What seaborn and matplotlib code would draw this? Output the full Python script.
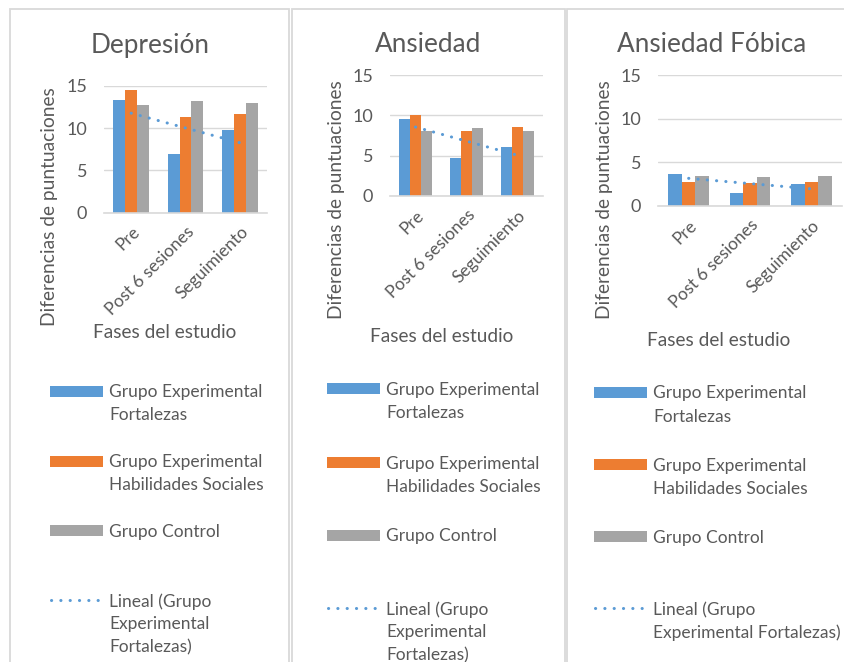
import numpy as np
import pandas as pd
import matplotlib
matplotlib.use("Agg")
import matplotlib.pyplot as plt
import seaborn as sns
from matplotlib.patches import Rectangle
from matplotlib.lines import Line2D

# ---- data -------------------------------------------------------------
fases = ["Pre", "Post 6 sesiones", "Seguimiento"]
grupos = ["Grupo Experimental Fortalezas",
          "Grupo Experimental Habilidades Sociales",
          "Grupo Control"]
titulos = ["Depresión", "Ansiedad", "Ansiedad Fóbica"]

depresion_fortalezas = [13.3, 7.0, 9.8]
depresion_habilidades = [14.5, 11.3, 11.7]
depresion_control = [12.8, 13.2, 13.0]

ansiedad_fortalezas = [9.6, 4.7, 6.1]
ansiedad_habilidades = [10.1, 8.0, 8.5]
ansiedad_control = [8.0, 8.4, 8.1]

fobica_fortalezas = [3.7, 1.5, 2.5]
fobica_habilidades = [2.8, 2.6, 2.8]
fobica_control = [3.4, 3.3, 3.4]

yticks = [0, 5, 10, 15]
ylabel = "Diferencias de puntuaciones"
xlabel = "Fases del estudio"

# legend wording (wrapped as laid out in each chart)
leg_p12 = ["Grupo Experimental\nFortalezas",
           "Grupo Experimental\nHabilidades Sociales",
           "Grupo Control",
           "Lineal (Grupo\nExperimental\nFortalezas)"]
leg_p3 = ["Grupo Experimental\nFortalezas",
          "Grupo Experimental\nHabilidades Sociales",
          "Grupo Control",
          "Lineal (Grupo\nExperimental Fortalezas)"]

# ---- style ------------------------------------------------------------
sns.set_theme(style="white")
plt.rcParams["font.family"] = ["Lato", "DejaVu Sans"]
TXT = "#595959"
GRID = "#D9D9D9"
palette = ["#5B9BD5", "#ED7D31", "#A5A5A5"]

W, H = 845, 662
fig = plt.figure(figsize=(W / 100, H / 100), dpi=100)


def fx(x):
    return x / W


def fy(y):
    return 1 - y / H


def frame(x0, x1):
    fig.add_artist(Rectangle((fx(x0), fy(H + 5)), fx(x1) - fx(x0), fy(9) - fy(H + 5),
                             transform=fig.transFigure, fill=False,
                             edgecolor=GRID, lw=1.3))


frame(10.5, 289.5)
frame(292, 565.5)
frame(567, 860)

series = [
    (depresion_fortalezas, depresion_habilidades, depresion_control),
    (ansiedad_fortalezas, ansiedad_habilidades, ansiedad_control),
    (fobica_fortalezas, fobica_habilidades, fobica_control),
]

# pixel layout of each chart: plot box, title, axis titles, legend
layout = [
    dict(box=(104, 267, 86, 212.7), title=(150, 45), ylab=(50, 207), xlab=(165, 333),
         leg_x=(50, 103, 109), leg_y=[391, 461, 530, 600], labels=leg_p12, ticks=False),
    dict(box=(390, 543, 75, 196), title=(428, 44), ylab=(337, 200), xlab=(442, 336),
         leg_x=(327, 380, 386), leg_y=[388, 462, 535, 608], labels=leg_p12, ticks=False),
    dict(box=(658, 842, 75, 206), title=(712, 44), ylab=(605, 200), xlab=(719, 340),
         leg_x=(594, 647, 653), leg_y=[392, 464, 536, 608], labels=leg_p3, ticks=True),
]

LINE = 23  # legend line pitch in pixels

for vals, lay, titulo in zip(series, layout, titulos):
    x0, x1, ytop, ybot = lay["box"]
    ax = fig.add_axes([fx(x0), fy(ybot), fx(x1) - fx(x0), fy(ytop) - fy(ybot)])
    df = pd.DataFrame({
        "fase": fases * 3,
        "grupo": [g for g in grupos for _ in fases],
        "valor": [v for s in vals for v in s],
    })
    sns.barplot(data=df, x="fase", y="valor", hue="grupo", hue_order=grupos,
                order=fases, palette=palette, width=0.66, saturation=1,
                linewidth=0, ax=ax, legend=False)

    # linear trend of the Fortalezas group
    xs = np.arange(len(fases))
    k, b = np.polyfit(xs, vals[0], 1)
    ax.plot(xs, k * xs + b, color=palette[0], lw=2.2,
            linestyle=(0, (0.05, 3.0)), dash_capstyle="round", zorder=5)

    ax.set_ylim(0, 15)
    ax.set_xlim(-0.5, len(fases) - 0.5)
    ax.set_yticks(yticks)
    ax.yaxis.grid(True, color=GRID, lw=1.0)
    ax.set_axisbelow(True)
    for s in ["top", "right", "left"]:
        ax.spines[s].set_visible(False)
    ax.spines["bottom"].set_color(GRID)
    ax.spines["bottom"].set_linewidth(1.2)
    ax.set_xlabel("")
    ax.set_ylabel("")
    ax.tick_params(axis="y", length=0, pad=12, labelsize=13, labelcolor=TXT)
    ax.tick_params(axis="x", length=0, pad=8, labelsize=12.5, labelcolor=TXT)
    for lab in ax.get_xticklabels():
        lab.set_rotation(45)
        lab.set_ha("right")
        lab.set_rotation_mode("anchor")
    if lay["ticks"]:
        ax.set_xticks(np.arange(-0.5, len(fases)), minor=True)
        ax.tick_params(axis="x", which="minor", length=5, width=1.2, color=GRID,
                       direction="out")

    # titles
    tx, ty = lay["title"]
    fig.text(fx(tx), fy(ty), titulo, ha="center", va="center", fontsize=18.8, color=TXT)
    lx, ly = lay["ylab"]
    fig.text(fx(lx), fy(ly), ylabel, ha="center", va="center", rotation=90,
             fontsize=13.8, color=TXT)
    gx, gy = lay["xlab"]
    fig.text(fx(gx), fy(gy), xlabel, ha="center", va="center", fontsize=13.7, color=TXT)

    # legend
    hx0, hx1, tx0 = lay["leg_x"]
    for i, (label, yc) in enumerate(zip(lay["labels"], lay["leg_y"])):
        if i < 3:
            fig.add_artist(Rectangle((fx(hx0), fy(yc + 5.5)), fx(hx1) - fx(hx0),
                                     fy(yc - 5.5) - fy(yc + 5.5),
                                     transform=fig.transFigure, color=palette[i], lw=0))
        else:
            fig.add_artist(Line2D([fx(hx0 + 1), fx(hx1)], [fy(yc), fy(yc)],
                                  transform=fig.transFigure, color=palette[0], lw=2.2,
                                  linestyle=(0, (0.05, 3.0)), dash_capstyle="round"))
        for j, line in enumerate(label.split("\n")):
            fig.text(fx(tx0), fy(yc + j * LINE), line, ha="left", va="center_baseline",
                     fontsize=12.5, color=TXT)

fig.savefig("out.png", dpi=100)
